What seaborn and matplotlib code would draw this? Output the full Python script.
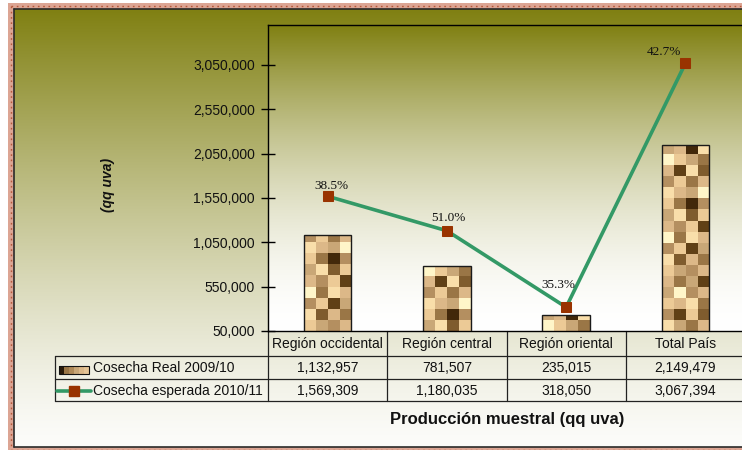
import numpy as np
import pandas as pd
import matplotlib
matplotlib.use("Agg")
import matplotlib.pyplot as plt
import seaborn as sns
from matplotlib.patches import Rectangle
from matplotlib.lines import Line2D

# ---------------- data ----------------
categories = ["Región occidental", "Región central", "Región oriental", "Total País"]
real_2009 = [1132957, 781507, 235015, 2149479]
esperada_2010 = [1569309, 1180035, 318050, 3067394]
series_names = ["Cosecha Real 2009/10", "Cosecha esperada 2010/11"]
pct_labels = ["38.5%", "51.0%", "35.3%", "42.7%"]
y_ticks = [50000, 550000, 1050000, 1550000, 2050000, 2550000, 3050000]
y_title = "(qq uva)"
x_title = "Producción muestral (qq uva)"

# ---------------- style ----------------
W, H = 742, 450
sns.set_theme(style="white")
plt.rcParams["font.family"] = ["Liberation Sans", "DejaVu Sans"]

OLIVE = (128, 128, 18)
GREEN = "#339966"
MARK = "#993300"
TXT = "#111111"
TEX_PALETTE = ["#fff6c9", "#f9deaa", "#ecca96", "#dcb888", "#c9a777",
               "#b48f60", "#9a7646", "#7f5c2e", "#604016", "#42280a"]
TEX = ("2453173652840613352841722695134052633817"
       "0246439125386174320514635827231640533648")
label_offsets_px = [(4, 10), (2, 13), (-8, 22), (-21, 11)]

fig = plt.figure(figsize=(W / 100, H / 100), dpi=100)
fig.patch.set_facecolor("white")

# background axes in pixel coordinates (y downward)
bg = fig.add_axes([0, 0, 1, 1], zorder=-5)
bg.set_xlim(0, W)
bg.set_ylim(H, 0)
bg.axis("off")


def vgrad(top_rgb, bot_rgb, power, n=256):
    t = np.linspace(0, 1, n)[:, None]
    f = 1 - (1 - t) ** power
    top = np.array(top_rgb) / 255.0
    bot = np.array(bot_rgb) / 255.0
    img = top[None, :] * (1 - f) + bot[None, :] * f
    return img.reshape(n, 1, 3)


bg.imshow(vgrad(OLIVE, (252, 252, 250), 1.3), extent=(14, 746, 447, 9),
          aspect="auto", interpolation="bilinear", zorder=0)
bg.imshow(vgrad(OLIVE, (255, 255, 255), 1.7), extent=(268, 746, 331, 25),
          aspect="auto", interpolation="bilinear", zorder=1)

# decorative border
band = "#dca594"
for r in [Rectangle((8, 3), 740, 6), Rectangle((8, 3), 6, 450), Rectangle((8, 447), 740, 6)]:
    r.set_facecolor(band)
    r.set_edgecolor("none")
    r.set_zorder(2)
    bg.add_patch(r)
dots = dict(color="#b5583a", lw=1.0, dashes=(1.2, 2.6), zorder=3)
bg.add_line(Line2D([11, 746], [6, 6], **dots))
bg.add_line(Line2D([11, 11], [6, 450], **dots))
bg.add_line(Line2D([11, 746], [449.5, 449.5], **dots))
edge = dict(color="#2a2a2a", lw=1.2, zorder=4)
bg.add_line(Line2D([14, 746], [9, 9], **edge))
bg.add_line(Line2D([14, 14], [9, 447], **edge))
bg.add_line(Line2D([14, 746], [447, 447], **edge))

# ---------------- main axes ----------------
ax = fig.add_axes([268 / W, 1 - 331 / H, 477 / W, 306 / H])
ax.set_facecolor("none")

sns.barplot(x=categories, y=real_2009, ax=ax, width=0.4, color="#c9a777",
            edgecolor="#1a1a1a", linewidth=1.0, saturation=1)
sns.lineplot(x=categories, y=esperada_2010, ax=ax, sort=False, color=GREEN,
             lw=2.6, marker="s", markersize=6.5, markerfacecolor=MARK,
             markeredgecolor=MARK, zorder=5)

YMIN, YMAX = 50000, 3500000
ax.set_xlim(-0.5, 3.5)
ax.set_ylim(YMIN, YMAX)

# textured bars
row_h = 11 / 306 * (YMAX - YMIN)
tex_rows = np.array([int(c) for c in TEX]).reshape(-1, 4)
pal = np.array([matplotlib.colors.to_rgb(c) for c in TEX_PALETTE])
for i, p in enumerate(ax.patches):
    top = p.get_y() + p.get_height()
    nrows = int(np.ceil((top - YMIN) / row_h)) + 1
    idx = np.array([tex_rows[(i * 5 + k) % len(tex_rows)] for k in range(nrows)])[::-1]
    img = pal[idx]
    im = ax.imshow(img, extent=(p.get_x(), p.get_x() + p.get_width(), YMIN, YMIN + nrows * row_h),
                   aspect="auto", interpolation="nearest", zorder=2)
    im.set_clip_path(p)
    p.set_facecolor("none")
    p.set_zorder(3)

ax.set_xlim(-0.5, 3.5)
ax.set_ylim(YMIN, YMAX)

for i, (v, lab) in enumerate(zip(esperada_2010, pct_labels)):
    dx, dy = label_offsets_px[i]
    ax.annotate(lab, xy=(i, v), xytext=(dx, dy), textcoords="offset pixels",
                ha="center", va="center", fontsize=9.5,
                family=["Liberation Serif", "DejaVu Serif"], color=TXT, zorder=6)

ax.set_yticks(y_ticks)
ax.set_yticklabels([f"{v:,}" for v in y_ticks], fontsize=10, color=TXT)
ax.tick_params(axis="y", direction="inout", length=10, width=1, color="black",
               pad=4.3, left=True)
ax.tick_params(axis="x", bottom=False, labelbottom=False)
ax.set_xlabel("")
ax.set_ylabel("")
for s in ["left", "top", "bottom"]:
    ax.spines[s].set_visible(True)
    ax.spines[s].set_color("black")
    ax.spines[s].set_linewidth(1.0)
ax.spines["right"].set_visible(False)

# ---------------- data table (columns follow the category scale) ----------------
fig.canvas.draw()
to_px = ax.transData.transform
col_edges = [to_px((i - 0.5, YMIN))[0] for i in range(len(categories) + 1)]
col_centers = [to_px((i, YMIN))[0] for i in range(len(categories))]
tab_left = 55
y_top, y_r1, y_r2, y_bot = 331, 356, 379, 401
lc = dict(color="#222222", lw=0.9, zorder=7)
for yy in (y_r1, y_r2, y_bot):
    bg.add_line(Line2D([tab_left, 746], [yy, yy], **lc))
bg.add_line(Line2D([tab_left, tab_left], [y_r1, y_bot], **lc))
for xe in col_edges:
    bg.add_line(Line2D([xe, xe], [y_top, y_bot], **lc))

base_y = [348, 372, 395]
for xc, c in zip(col_centers, categories):
    bg.text(xc, base_y[0], c, ha="center", va="baseline", fontsize=10, color=TXT, zorder=8)
for r, (name, vals) in enumerate(zip(series_names, [real_2009, esperada_2010]), start=1):
    bg.text(93, base_y[r], name, ha="left", va="baseline", fontsize=10, color=TXT, zorder=8)
    for xc, v in zip(col_centers, vals):
        bg.text(xc, base_y[r], f"{v:,}", ha="center", va="baseline", fontsize=10,
                color=TXT, zorder=8)

# legend keys inside the table
sw_cols = np.array([matplotlib.colors.to_rgb(c) for c in
                    ["#2a1a08", "#9a7646", "#b08a58", "#c9a777", "#dcb888", "#e6c596"]])
bg.imshow(sw_cols.reshape(1, -1, 3), extent=(59, 89, 374, 366), aspect="auto",
          interpolation="nearest", zorder=8)
bg.add_patch(Rectangle((59, 366), 30, 8, facecolor="none", edgecolor="#111111", lw=0.8, zorder=9))
bg.add_line(Line2D([57, 91], [391, 391], color=GREEN, lw=2.6, zorder=8))
bg.add_line(Line2D([74], [391], marker="s", markersize=6.5, color=MARK, zorder=9))
bg.set_xlim(0, W)
bg.set_ylim(H, 0)

# ---------------- titles ----------------
fig.text(507 / W, 1 - 424 / H, x_title, ha="center", va="baseline", fontsize=12,
         fontweight="bold", color=TXT)
fig.text(108 / W, 1 - 185 / H, y_title, ha="center", va="center", fontsize=10,
         fontweight="bold", fontstyle="italic", rotation=90, color=TXT)

fig.savefig("out.png", dpi=100)
